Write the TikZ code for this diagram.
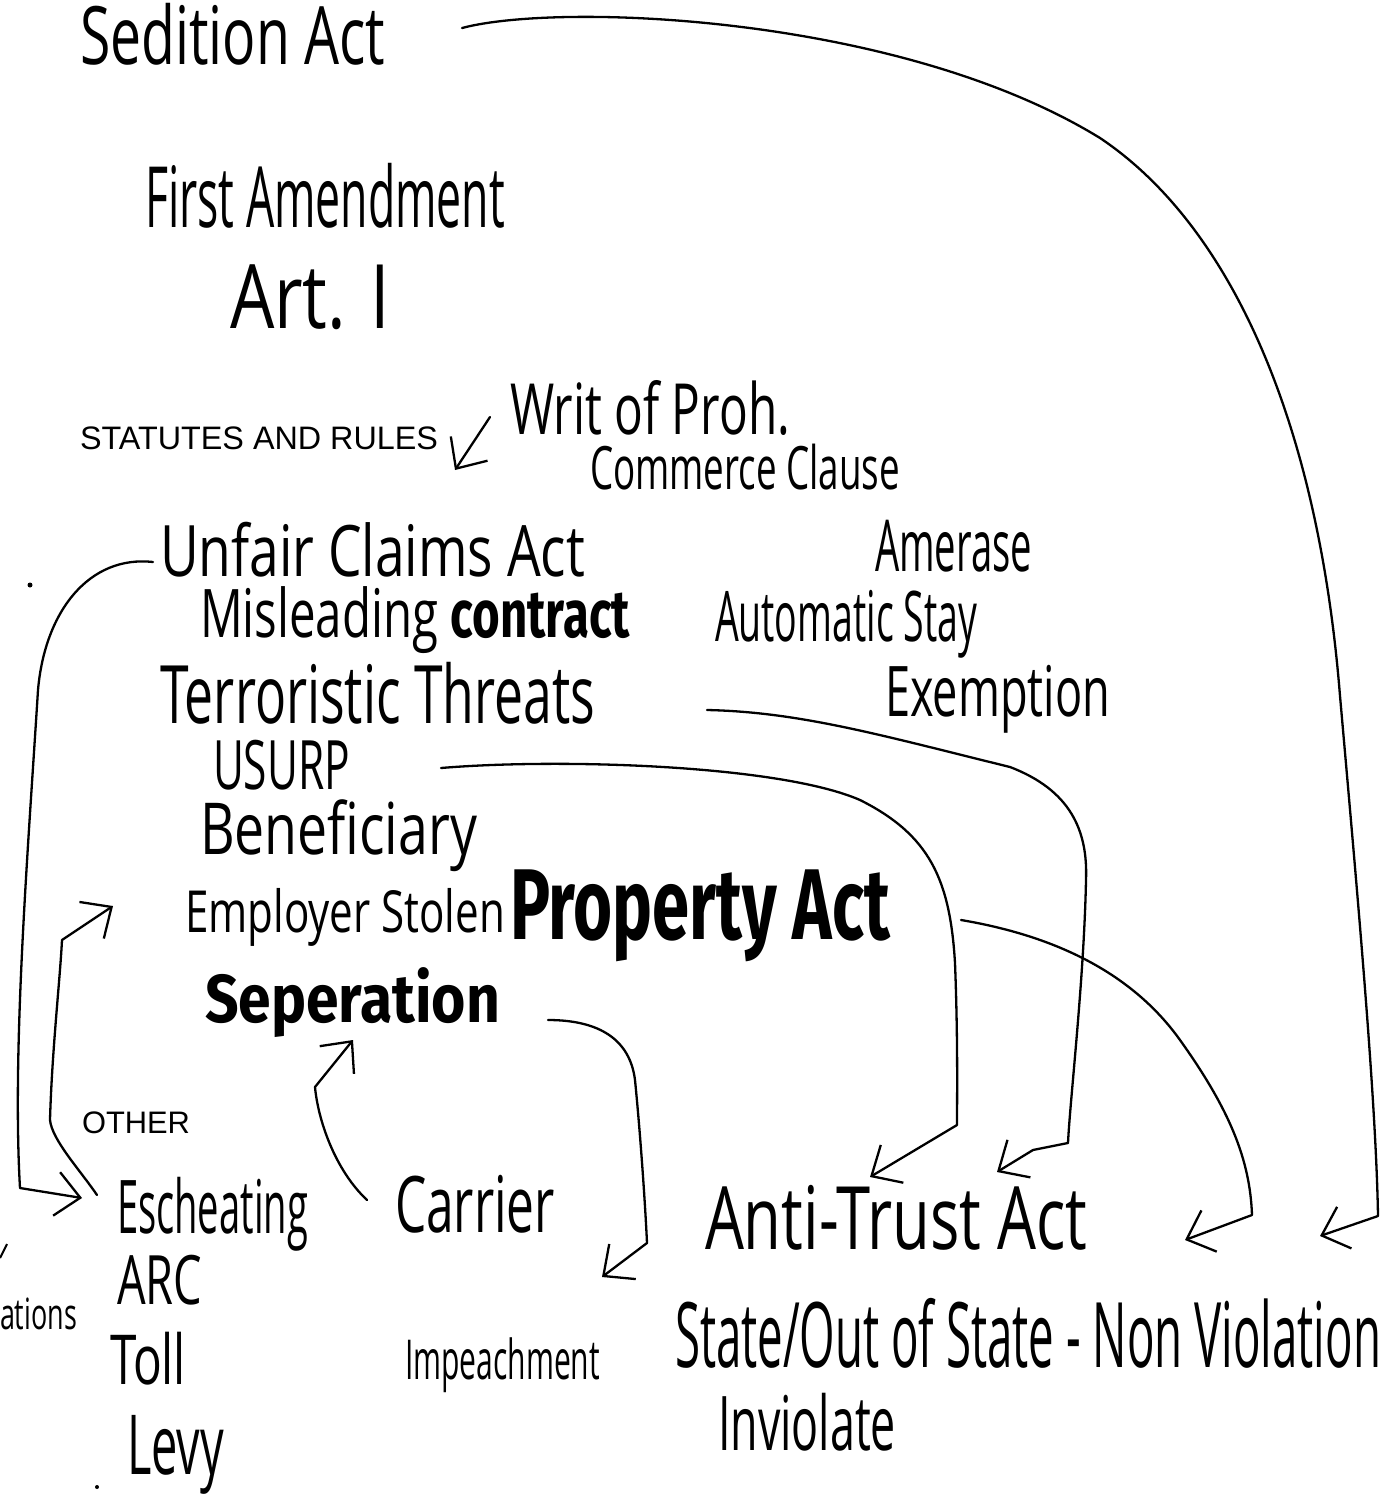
\documentclass[tikz,border=0pt]{standalone}
\usepackage{fontspec}
\usepackage{graphicx}
\setmainfont{Open Sans}
\newfontfamily\typedfont{Liberation Sans}
\newfontfamily\hwbold{Fira Sans}
\usetikzlibrary{arrows.meta}
\newcommand{\fitbox}[3]{\resizebox*{#1pt}{#2pt}{#3}}
\begin{document}
\begin{tikzpicture}[x=1pt,y=-1pt,
  lbl/.style={anchor=north west, inner sep=0pt, outer sep=0pt},
  conn/.style={line width=2.3pt, line cap=round, line join=round},
  barb/.style={-{Straight Barb[length=24pt,width=44pt,line width=2.3pt]}}
]
\fill[white] (0,0) rectangle (1385,1494);
\useasboundingbox (0,0) rectangle (1385,1494);

% labels
\node[lbl] (sed) at (80,3) {\fitbox{305}{62}{Sedition Act}};
\node[lbl] (first) at (145,163) {\fitbox{360}{65}{First Amendment}};
\node[lbl] (art) at (230,265) {\fitbox{160}{65}{Art. I}};
\node[lbl] (statutes) at (80,427) {\fitbox{358}{23}{\typedfont STATUTES AND RULES}};
\node[lbl] (writ) at (510,380) {\fitbox{280}{55}{Writ of Proh.}};
\node[lbl] (commerce) at (590,444) {\fitbox{310}{46}{Commerce Clause}};
\node[lbl] (amerase) at (875,520) {\fitbox{157}{52}{Amerase}};
\node[lbl] (unfair) at (160,522) {\fitbox{425}{55}{Unfair Claims Act}};
\node[lbl] (mislead) at (200,587) {\fitbox{430}{67}{Misleading {\hwbold\bfseries contract}}};
\node[lbl] (auto) at (715,590) {\fitbox{262}{68}{Automatic Stay}};
\node[lbl] (terror) at (160,662) {\fitbox{435}{62}{Terroristic Threats}};
\node[lbl] (exempt) at (885,665) {\fitbox{225}{68}{Exemption}};
\node[lbl] (usurp) at (213,740) {\fitbox{137}{50}{USURP}};
\node[lbl] (benef) at (200,800) {\fitbox{277}{72}{Beneficiary}};
\node[lbl] (employer) at (185,888) {\fitbox{320}{58}{Employer Stolen}};
\node[lbl] (property) at (510,870) {\fitbox{380}{92}{\hwbold\bfseries Property Act}};
\node[lbl] (seper) at (205,968) {\fitbox{295}{70}{\hwbold\bfseries Seperation}};
\node[lbl] (other) at (82,1112) {\fitbox{108}{22}{\typedfont OTHER}};
\node[lbl] (esch) at (117,1177) {\fitbox{191}{74}{Escheating}};
\node[lbl] (carrier) at (395,1175) {\fitbox{160}{58}{Carrier}};
\node[lbl] (anti) at (705,1185) {\fitbox{382}{65}{Anti-Trust Act}};
\node[lbl] (arc) at (117,1255) {\fitbox{85}{50}{ARC}};
\node[lbl] (ations) at (0,1298) {\fitbox{77}{32}{ations}};
\node[lbl] (toll) at (110,1332) {\fitbox{76}{53}{Toll}};
\node[lbl] (impeach) at (405,1338) {\fitbox{195}{55}{Impeachment}};
\node[lbl] (state) at (675,1298) {\fitbox{706}{70}{State/Out of State - Non Violation}};
\node[lbl] (inviolate) at (718,1393) {\fitbox{178}{58}{Inviolate}};
\node[lbl] (levy) at (127,1415) {\fitbox{97}{79}{Levy}};

% stray marks
\fill (30,585) circle (2.5);
\fill (97,1487) circle (2);
\draw[line width=2pt] (0,1258) -- (7,1244);

% connectors
\draw[conn,barb] ([shift={(382,25)}]sed.north west)
  .. controls (560,2) and (900,15) .. (1100,138)
  .. controls (1230,225) and (1318,420) .. (1340,696)
  .. controls (1358,900) and (1376,1100) .. (1378,1216)
  -- ([shift={(645,-62)}]state.north west);

\draw[conn,barb] ([shift={(-7,40)}]unfair.north west)
  .. controls (90,555) and (45,610) .. (38,690)
  .. controls (28,850) and (12,1050) .. (20,1188)
  -- ([shift={(-35,21)}]esch.north west);

\draw[conn,barb] ([shift={(-20,18)}]esch.north west)
  .. controls (80,1170) and (52,1140) .. (50,1120)
  .. controls (52,1050) and (60,980) .. (62,940)
  -- ([shift={(-72,18)}]employer.north west);

\draw[conn,barb] ([shift={(-28,25)}]carrier.north west)
  .. controls (335,1170) and (318,1120) .. (315,1087)
  -- ([shift={(148,72)}]seper.north west);

\draw[conn,barb] ([shift={(343,52)}]seper.north west)
  .. controls (600,1020) and (630,1040) .. (635,1080)
  .. controls (640,1130) and (645,1200) .. (647,1243)
  -- ([shift={(197,-61)}]impeach.north west);

\draw[conn,barb] ([shift={(228,28)}]usurp.north west)
  .. controls (560,758) and (780,765) .. (860,800)
  .. controls (930,835) and (950,880) .. (955,963)
  .. controls (958,1040) and (957,1100) .. (957,1125)
  -- ([shift={(165,-8)}]anti.north west);

\draw[conn,barb] ([shift={(547,48)}]terror.north west)
  .. controls (800,712) and (880,735) .. (1010,767)
  .. controls (1070,790) and (1088,830) .. (1086,880)
  .. controls (1084,980) and (1070,1100) .. (1068,1143)
  -- (1033,1150)
  -- ([shift={(292,-13)}]anti.north west);

\draw[conn,barb] ([shift={(451,50)}]property.north west)
  .. controls (1050,935) and (1130,970) .. (1180,1040)
  .. controls (1230,1110) and (1250,1160) .. (1252,1215)
  -- ([shift={(510,-58)}]state.north west);

\draw[conn,barb] ([shift={(-20,37)}]writ.north west)
  -- ([shift={(375,43)}]statutes.north west);
\end{tikzpicture}
\end{document}
